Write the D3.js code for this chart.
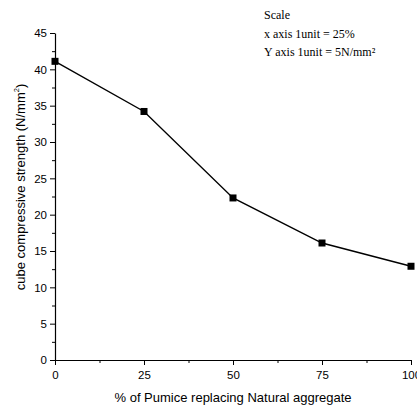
<!DOCTYPE html>
<html><head><meta charset="utf-8">
<script src="https://cdn.jsdelivr.net/npm/d3@7"></script>
<style>body{margin:0;background:#fff}svg{display:block}</style>
</head><body>
<svg id="chart" width="417" height="406"></svg>
<script>
const xValues = [0, 25, 50, 75, 100];
const strength = [41.1, 34.2, 22.3, 16.1, 12.9];
const xTicks = [0, 25, 50, 75, 100];
const yTicks = [0, 5, 10, 15, 20, 25, 30, 35, 40, 45];
const scaleNotes = ["Scale", "x axis 1unit = 25%", "Y axis 1unit = 5N/mm\u00B2"];

const svg = d3.select("#chart");
const x = d3.scaleLinear().domain([0, 100]).range([55, 411]);
const y = d3.scaleLinear().domain([0, 45]).range([360, 33]);
const font = "'Liberation Sans', Arial, sans-serif";

// minor ticks
const xMinor = d3.range(12.5, 100, 25);
const yMinor = d3.range(2.5, 45, 5);
svg.append("g").attr("transform", "translate(0,360)")
  .call(d3.axisBottom(x).tickValues(xMinor).tickSize(3).tickFormat(""))
  .call(g => g.select(".domain").remove())
  .selectAll("line").attr("stroke", "#000");
svg.append("g").attr("transform", "translate(55,0)")
  .call(d3.axisLeft(y).tickValues(yMinor).tickSize(3).tickFormat(""))
  .call(g => g.select(".domain").remove())
  .selectAll("line").attr("stroke", "#000");

const xAxis = svg.append("g").attr("transform", "translate(0,360)")
  .call(d3.axisBottom(x).tickValues(xTicks).tickSize(5).tickSizeOuter(0).tickPadding(6));
const yAxis = svg.append("g").attr("transform", "translate(55,0)")
  .call(d3.axisLeft(y).tickValues(yTicks).tickSize(5).tickSizeOuter(0).tickPadding(3));
[xAxis, yAxis].forEach(g => {
  g.select(".domain").attr("stroke", "#000").attr("stroke-width", 1.2);
  g.selectAll("line").attr("stroke", "#000");
  g.selectAll("text").attr("font-family", font).attr("font-size", 11.5).attr("fill", "#000");
});

const line = d3.line().x((d, i) => x(xValues[i])).y(d => y(d));
svg.append("path").datum(strength).attr("d", line)
  .attr("fill", "none").attr("stroke", "#000").attr("stroke-width", 1.4);
svg.selectAll("rect.pt").data(strength).enter().append("rect")
  .attr("x", (d, i) => x(xValues[i]) - 3.5).attr("y", d => y(d) - 3.5)
  .attr("width", 7).attr("height", 7).attr("fill", "#000");

svg.append("text").attr("x", 233).attr("y", 402).attr("text-anchor", "middle")
  .attr("font-family", font).attr("font-size", 13).text("% of Pumice replacing Natural aggregate");

const yt = svg.append("text").attr("transform", "translate(25,187) rotate(-90)")
  .attr("text-anchor", "middle").attr("font-family", font).attr("font-size", 13);
yt.append("tspan").text("cube compressive strength (N/mm");
yt.append("tspan").attr("font-size", 7.5).attr("dy", -6).text("2");
yt.append("tspan").attr("dy", 6).text(")");

svg.selectAll("text.note").data(scaleNotes).enter().append("text")
  .attr("x", 264).attr("y", (d, i) => 19 + i * 18.5)
  .attr("font-family", "'Liberation Serif', 'Times New Roman', serif").attr("font-size", 12)
  .text(d => d);
</script>
</body></html>
